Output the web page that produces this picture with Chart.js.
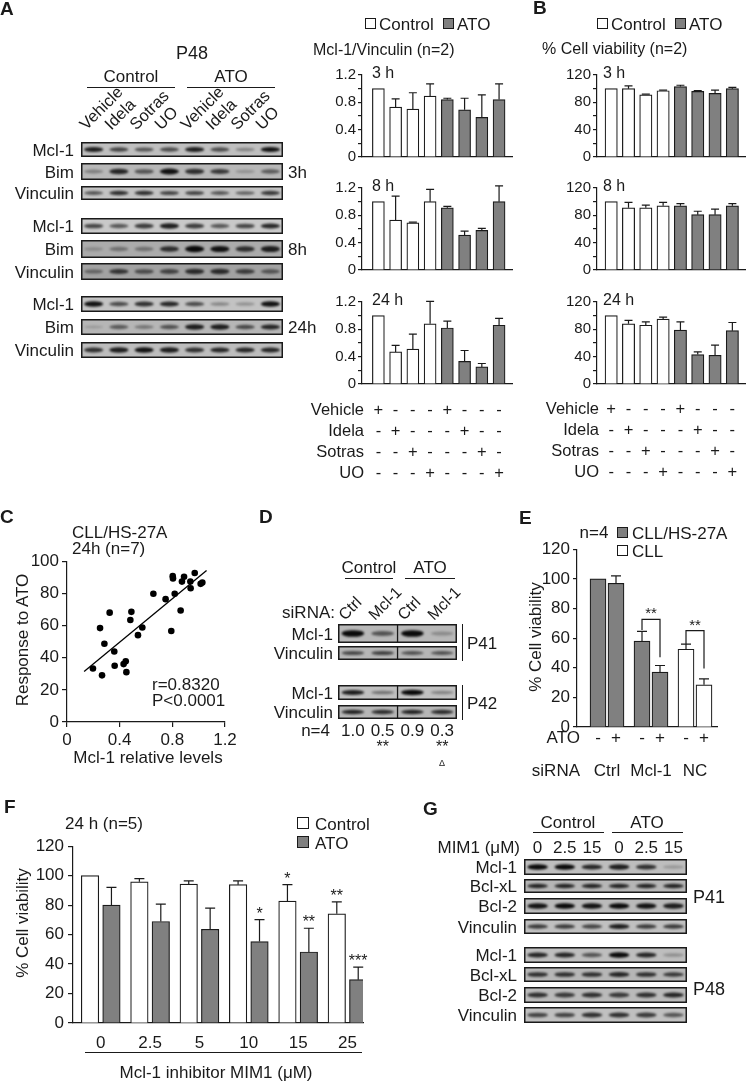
<!DOCTYPE html>
<html>
<head>
<meta charset="utf-8">
<script src="https://cdn.jsdelivr.net/npm/chart.js@4.4.1/dist/chart.umd.min.js"></script>
<style>
  body { margin: 0; background: #fff; }
  #fig { position: relative; width: 747px; height: 1083px; overflow: hidden; background: #fff;
         font-family: "Liberation Sans", Arial, Helvetica, sans-serif; color: #1a1a1a; }
  #fig canvas { position: absolute; }
  .t { position: absolute; white-space: nowrap; line-height: 1; z-index: 2; }
  .ln { position: absolute; background: #1a1a1a; z-index: 2; }
  .sw { position: absolute; border: 1.3px solid #1a1a1a; box-sizing: border-box; z-index: 2; }
</style>
</head>
<body>
<div id="fig"><canvas id="blots" width="747" height="1083" style="left:0;top:0"></canvas></div>
<script>
// ---- data ----
const treatments = ['Vehicle', 'Idela', 'Sotras', 'UO'];
const barTreatment = [0, 1, 2, 3, 0, 1, 2, 3];
const timeLabels = ['3 h', '8 h', '24 h'];

// A: Mcl-1/Vinculin (bar tops, error bar tops)
const mcl3hCtrl = [1.0, 0.73, 0.70, 0.89];
const mcl3hCtrlErr = [null, 0.85, 0.94, 1.07];
const mcl3hAto = [0.84, 0.69, 0.58, 0.84];
const mcl3hAtoErr = [0.86, 0.86, 0.91, 1.07];
const mcl8hCtrl = [1.0, 0.73, 0.69, 1.0];
const mcl8hCtrlErr = [null, 1.08, 0.70, 1.18];
const mcl8hAto = [0.91, 0.51, 0.58, 1.0];
const mcl8hAtoErr = [0.93, 0.57, 0.61, 1.23];
const mcl24hCtrl = [1.0, 0.47, 0.51, 0.88];
const mcl24hCtrlErr = [null, 0.565, 0.73, 1.21];
const mcl24hAto = [0.82, 0.33, 0.25, 0.86];
const mcl24hAtoErr = [0.92, 0.49, 0.30, 0.96];

// B: % cell viability
const via3hCtrl = [100, 100, 91, 97];
const via3hCtrlErr = [null, 104, 92, 98];
const via3hAto = [103, 96, 93, 100];
const via3hAtoErr = [105, 97, 98, 102];
const via8hCtrl = [100, 91, 91, 94];
const via8hCtrlErr = [null, 99, 95, 99];
const via8hAto = [94, 81, 81, 94];
const via8hAtoErr = [97, 86, 89, 97];
const via24hCtrl = [100, 88, 86, 95];
const via24hCtrlErr = [null, 93, 91, 98];
const via24hAto = [79, 43, 42, 78];
const via24hAtoErr = [91, 47, 57, 90];

// C: Mcl-1 relative levels vs response to ATO
const mclLevels = [0.197, 0.266, 0.251, 0.284, 0.324, 0.359, 0.362, 0.430, 0.446, 0.451, 0.481, 0.489, 0.539, 0.572,
                   0.656, 0.749, 0.818, 0.792, 0.803, 0.805, 0.863, 0.873, 0.889, 0.937, 0.939, 0.970, 1.015, 1.028];
const atoResponse = [33.3, 29, 58.4, 48.7, 68, 43.8, 35, 36, 37.8, 31, 63.4, 68.5, 54, 58.8,
                     79.8, 76.4, 79.8, 56.6, 90.7, 89.3, 69.3, 87.3, 90.3, 87.3, 83.2, 92.7, 85.9, 86.7];
const fitRange = [0.13, 1.06];

// D: knockdown ratios
const dLanes = ['Ctrl', 'Mcl-1', 'Ctrl', 'Mcl-1'];
const dRatios = ['1.0', '0.5', '0.9', '0.3'];

// E: siRNA viability
const eSirna = ['Ctrl', 'Mcl-1', 'NC'];
const eAtoSigns = ['-', '+'];
const eCoculture = [100, 97, 58, 37];
const eCocultureErr = [null, 102, 64.5, 41.5];
const eMono = [52.5, 28.5];
const eMonoErr = [56, 32.5];
const eBracketTop = [72.7, 65];
const eBracketLeft = [65.5, 56];
const eBracketRight = [47, 39.5];

// F: MIM1 dose response
const doses = ['0', '2.5', '5', '10', '15', '25'];
const fCtrl = [100, 95.8, 94.3, 93.9, 82.7, 74.1];
const fCtrlErr = [null, 98, 96.5, 96.5, 93.9, 82.2];
const fAto = [80, 68.9, 63.6, 55.3, 48.2, 29.4];
const fAtoErr = [92, 80.7, 78, 70.2, 64.3, 37.9];
const fCtrlStars = ['', '', '', '', '*', '**'];
const fAtoStars = ['', '', '', '*', '**', '***'];

// G
const gDoses = ['0', '2.5', '15', '0', '2.5', '15'];

// blot band intensities (0..1)
const blotA3hMcl = [0.85, 0.65, 0.55, 0.6, 0.85, 0.6, 0.3, 0.9];
const blotA3hBim = [0.3, 0.8, 0.55, 0.9, 0.75, 0.7, 0.2, 0.5];
const blotA3hVinc = [0.55, 0.75, 0.75, 0.65, 0.65, 0.55, 0.5, 0.7];
const blotA8hMcl = [0.65, 0.55, 0.7, 0.85, 0.7, 0.55, 0.65, 0.8];
const blotA8hBim = [0.2, 0.35, 0.35, 0.75, 0.95, 0.9, 0.75, 0.85];
const blotA8hVinc = [0.4, 0.7, 0.55, 0.6, 0.75, 0.75, 0.65, 0.5];
const blotA24hMcl = [0.9, 0.6, 0.75, 0.8, 0.6, 0.3, 0.25, 0.9];
const blotA24hBim = [0.15, 0.5, 0.35, 0.55, 0.85, 0.85, 0.6, 0.8];
const blotA24hVinc = [0.75, 0.85, 0.9, 0.85, 0.75, 0.8, 0.8, 0.8];
const blotD41Mcl = [0.95, 0.55, 0.95, 0.25];
const blotD41Vinc = [0.6, 0.65, 0.55, 0.55];
const blotD42Mcl = [0.85, 0.4, 0.95, 0.3];
const blotD42Vinc = [0.8, 0.75, 0.8, 0.75];
const blotG41 = [[0.95, 0.95, 0.8, 0.85, 0.75, 0.2], [0.8, 0.8, 0.8, 0.8, 0.8, 0.8],
                 [0.9, 0.95, 0.9, 0.95, 0.9, 0.85], [0.7, 0.7, 0.65, 0.85, 0.7, 0.7]];
const blotG48 = [[0.8, 0.8, 0.55, 0.95, 0.8, 0.25], [0.75, 0.75, 0.75, 0.8, 0.75, 0.7],
                 [0.75, 0.7, 0.75, 0.7, 0.75, 0.8], [0.65, 0.65, 0.75, 0.75, 0.7, 0.55]];

// ---- helpers ----
const INK = '#1a1a1a', GRAY = '#808080';
const FONT = '"Liberation Sans", Arial, Helvetica, sans-serif';
const fig = document.getElementById('fig');
const bctx = document.getElementById('blots').getContext('2d');

function txt(s, x, y, o = {}) {
  const d = document.createElement('div');
  d.className = 't';
  d.textContent = s;
  d.style.fontSize = (o.size || 16) + 'px';
  if (o.bold) d.style.fontWeight = 'bold';
  const ax = o.align === 'right' ? '-100%' : o.align === 'left' ? '0' : '-50%';
  d.style.left = x + 'px';
  d.style.top = y + 'px';
  d.style.transform = `translate(${ax},-50%)` + (o.rot ? ` rotate(${o.rot}deg)` : '');
  fig.appendChild(d);
}
function slant(s, x, y, size) {
  const d = document.createElement('div');
  d.className = 't';
  d.textContent = s;
  d.style.fontSize = size + 'px';
  d.style.left = x + 'px';
  d.style.top = (y - size) + 'px';
  d.style.transformOrigin = '0 100%';
  d.style.transform = 'rotate(-45deg)';
  fig.appendChild(d);
}
function line(x1, y1, x2, y2, w = 1.3) {
  const d = document.createElement('div');
  d.className = 'ln';
  d.style.left = Math.min(x1, x2) + 'px';
  d.style.top = Math.min(y1, y2) + 'px';
  d.style.width = Math.max(w, Math.abs(x2 - x1)) + 'px';
  d.style.height = Math.max(w, Math.abs(y2 - y1)) + 'px';
  fig.appendChild(d);
}
function swatch(x, y, s, fill) {
  const d = document.createElement('div');
  d.className = 'sw';
  Object.assign(d.style, { left: x + 'px', top: y + 'px', width: s + 'px', height: s + 'px', background: fill });
  fig.appendChild(d);
}

function drawBlot(x, y, w, h, bands, bg) {
  bctx.save();
  bctx.fillStyle = bg;
  bctx.fillRect(x, y, w, h);
  const lw = w / bands.length;
  bctx.filter = 'blur(1.1px)';
  bands.forEach((v, i) => {
    const cx = x + lw * (i + 0.5);
    const bh = Math.max(2, h * 0.28 * (0.6 + 0.7 * v));
    bctx.fillStyle = `rgba(10,10,10,${Math.min(1, v * 1.05).toFixed(2)})`;
    bctx.beginPath();
    bctx.ellipse(cx, y + h * 0.5, lw * 0.38, bh / 2, 0, 0, Math.PI * 2);
    bctx.fill();
  });
  bctx.filter = 'none';
  bctx.strokeStyle = INK;
  bctx.lineWidth = 1.5;
  bctx.strokeRect(x + 0.75, y + 0.75, w - 1.5, h - 1.5);
  bctx.restore();
}

// error bars, stars and brackets drawn from the chart's own scales
const errorBars = {
  id: 'errorBars',
  afterDatasetsDraw(chart) {
    const ctx = chart.ctx, y = chart.scales.y;
    chart.data.datasets.forEach((ds, i) => {
      const meta = chart.getDatasetMeta(i);
      if (!ds.errTop || meta.type !== 'bar') return;
      ctx.save();
      ctx.strokeStyle = INK;
      ctx.lineWidth = 1.2;
      meta.data.forEach((bar, j) => {
        const e = ds.errTop[j];
        let top = bar.y;
        if (e != null) {
          top = y.getPixelForValue(e);
          const cap = ds.cap || 4;
          ctx.beginPath();
          ctx.moveTo(bar.x, bar.y);
          ctx.lineTo(bar.x, top);
          ctx.moveTo(bar.x - cap, top);
          ctx.lineTo(bar.x + cap, top);
          ctx.stroke();
        }
        if (ds.stars && ds.stars[j]) {
          ctx.fillStyle = INK;
          ctx.font = `16px ${FONT}`;
          ctx.textAlign = 'center';
          ctx.textBaseline = 'alphabetic';
          ctx.fillText(ds.stars[j], bar.x, top - 1);
        }
      });
      ctx.restore();
    });
    const br = chart.options.plugins.brackets;
    if (br && br.items) {
      ctx.save();
      ctx.strokeStyle = INK;
      ctx.lineWidth = 1.2;
      ctx.fillStyle = INK;
      ctx.font = `15px ${FONT}`;
      ctx.textAlign = 'center';
      br.items.forEach(b => {
        const x1 = chart.scales.x.getPixelForValue(b.x1), x2 = chart.scales.x.getPixelForValue(b.x2);
        const yt = y.getPixelForValue(b.top);
        ctx.beginPath();
        ctx.moveTo(x1, y.getPixelForValue(b.left));
        ctx.lineTo(x1, yt);
        ctx.lineTo(x2, yt);
        ctx.lineTo(x2, y.getPixelForValue(b.right));
        ctx.stroke();
        ctx.fillText(b.text, (x1 + x2) / 2, yt - 1);
      });
      ctx.restore();
    }
  }
};

function place(g) {
  const c = document.createElement('canvas');
  const w = g.yW + (g.right - g.axisX) + g.pr;
  const h = g.pt + (g.bottom - g.top) + g.xH;
  c.width = w; c.height = h;
  c.style.left = (g.axisX - g.yW) + 'px';
  c.style.top = (g.top - g.pt) + 'px';
  c.style.width = w + 'px';
  c.style.height = h + 'px';
  fig.appendChild(c);
  return c;
}
function yAxis(min, max, step, fmt, size, pad, yW, tick = 4) {
  return {
    min, max,
    ticks: { stepSize: step, autoSkip: false, font: { family: FONT, size }, color: INK, padding: pad, callback: fmt },
    grid: { display: true, drawOnChartArea: false, drawTicks: true, tickLength: tick, color: INK, lineWidth: 1.2 },
    border: { display: true, color: INK, width: 1.2 },
    afterFit: s => { s.width = yW; }
  };
}
function xAxis(min, max, xH, extra = {}) {
  return Object.assign({
    type: 'linear', min, max, offset: false,
    ticks: { display: false },
    grid: { display: false, offset: false },
    border: { display: true, color: INK, width: 1.2 },
    afterFit: s => { s.height = xH; }
  }, extra);
}
function barSet(label, xs, ys, err, fill, thick, cap, stars) {
  return {
    label, data: ys.map((v, i) => ({ x: xs[i], y: v })),
    backgroundColor: fill, borderColor: INK, borderWidth: 1.2,
    barThickness: thick, grouped: false, errTop: err, cap, stars
  };
}
function makeChart(g, type, datasets, scales, extraPlugins = {}) {
  const c = place(g);
  return new Chart(c, {
    type,
    data: { datasets },
    options: {
      responsive: false, animation: false, events: [],
      layout: { autoPadding: false, padding: { top: g.pt, right: g.pr, bottom: 0, left: 0 } },
      plugins: Object.assign({ legend: { display: false }, tooltip: { enabled: false } }, extraPlugins),
      scales
    },
    plugins: [errorBars]
  });
}

// ---- panel letters ----
txt('A', 0, 8, { align: 'left', bold: true, size: 19 });
txt('B', 533, 7, { align: 'left', bold: true, size: 19 });
txt('C', 0, 516, { align: 'left', bold: true, size: 19 });
txt('D', 259, 516, { align: 'left', bold: true, size: 19 });
txt('E', 519, 517, { align: 'left', bold: true, size: 19 });
txt('F', 4, 806, { align: 'left', bold: true, size: 19 });
txt('G', 423, 808, { align: 'left', bold: true, size: 19 });

// ---- panel A blot ----
{
  const x = 81, w = 202, lw = w / 8;
  txt('P48', 192, 53, { size: 18 });
  txt('Control', 131, 76, { size: 17 }); line(87, 86.5, 175, 86.5);
  txt('ATO', 231, 76, { size: 17 }); line(187, 86.5, 275, 86.5);
  barTreatment.forEach((t, i) => slant(treatments[t], x + lw * (i + 0.5) - 6, 132, 16.5));
  const rows = [
    [142, 157, blotA3hMcl, '#bfbfbf', 'Mcl-1'], [163, 180, blotA3hBim, '#b8b8b8', 'Bim'], [186, 200, blotA3hVinc, '#c3c3c3', 'Vinculin'],
    [218, 234, blotA8hMcl, '#c9c9c9', 'Mcl-1'], [240, 258, blotA8hBim, '#ababab', 'Bim'], [263, 280, blotA8hVinc, '#a2a2a2', 'Vinculin'],
    [296, 312, blotA24hMcl, '#c3c3c3', 'Mcl-1'], [319, 335, blotA24hBim, '#b6b6b6', 'Bim'], [342, 358, blotA24hVinc, '#bdbdbd', 'Vinculin']
  ];
  rows.forEach(r => {
    drawBlot(x, r[0], w, r[1] - r[0], r[2], r[3]);
    txt(r[4], 74, (r[0] + r[1]) / 2, { align: 'right', size: 17 });
  });
  txt('3h', 288, 171.5, { align: 'left', size: 17 });
  txt('8h', 288, 249, { align: 'left', size: 17 });
  txt('24h', 288, 327, { align: 'left', size: 17 });
}

// ---- panels A and B charts ----
const tops = [73, 186, 300];
const mclSets = [[mcl3hCtrl, mcl3hCtrlErr, mcl3hAto, mcl3hAtoErr],
                 [mcl8hCtrl, mcl8hCtrlErr, mcl8hAto, mcl8hAtoErr],
                 [mcl24hCtrl, mcl24hCtrlErr, mcl24hAto, mcl24hAtoErr]];
const viaSets = [[via3hCtrl, via3hCtrlErr, via3hAto, via3hAtoErr],
                 [via8hCtrl, via8hCtrlErr, via8hAto, via8hAtoErr],
                 [via24hCtrl, via24hCtrlErr, via24hAto, via24hAtoErr]];
const ctrlX = [0, 1, 2, 3], atoX = [4, 5, 6, 7];
let lastA, lastB;
tops.forEach((top, t) => {
  const gA = { axisX: 362, right: 512, top, bottom: top + 93, yW: 40, pt: 9, pr: 2, xH: 2 };
  const s = mclSets[t];
  lastA = makeChart(gA, 'bar', [
    barSet('Control', ctrlX, s[0], s[1], '#ffffff', 12, 4),
    barSet('ATO', atoX, s[2], s[3], GRAY, 12, 4)
  ], {
    x: xAxis(-0.95, 7.75, 2),
    y: yAxis(0, 1.2, 0.2, v => (Math.round(v * 10) % 4 === 0 ? (v === 0 ? '0' : v.toFixed(1)) : ''), 15, 2, 40)
  });
  txt(timeLabels[t], 372, top, { align: 'left', size: 16 });

  const gB = { axisX: 597, right: 745, top, bottom: top + 93, yW: 40, pt: 9, pr: 2, xH: 2 };
  const b = viaSets[t];
  lastB = makeChart(gB, 'bar', [
    barSet('Control', ctrlX, b[0], b[1], '#ffffff', 12.3, 4),
    barSet('ATO', atoX, b[2], b[3], GRAY, 12.3, 4)
  ], {
    x: xAxis(-0.82, 7.73, 2),
    y: yAxis(0, 120, 20, v => (v % 40 === 0 ? String(v) : ''), 15, 2, 40)
  });
  txt(timeLabels[t], 603, top, { align: 'left', size: 16 });
});

// legends and titles A/B
swatch(365, 18, 11, '#fff'); txt('Control', 379, 23.5, { align: 'left', size: 17 });
swatch(443, 18, 11, GRAY); txt('ATO', 457, 23.5, { align: 'left', size: 17 });
txt('Mcl-1/Vinculin (n=2)', 313, 50, { align: 'left', size: 16 });
swatch(597, 18, 11, '#fff'); txt('Control', 611, 23.5, { align: 'left', size: 17 });
swatch(675, 18, 11, GRAY); txt('ATO', 689, 23.5, { align: 'left', size: 17 });
txt('% Cell viability (n=2)', 542, 49, { align: 'left', size: 16 });

// treatment tables under A and B
[[lastA, 364, 409], [lastB, 599, 408]].forEach(([ch, lx, y0]) => {
  const left = parseFloat(ch.canvas.style.left);
  treatments.forEach((name, r) => {
    const y = y0 + r * 21;
    txt(name, lx, y, { align: 'right', size: 16.5 });
    barTreatment.forEach((t, c) => {
      txt(t === r ? '+' : '-', left + ch.scales.x.getPixelForValue(c), y, { size: 16.5 });
    });
  });
});

// ---- panel C scatter ----
{
  const n = mclLevels.length;
  const mx = mclLevels.reduce((a, b) => a + b, 0) / n;
  const my = atoResponse.reduce((a, b) => a + b, 0) / n;
  let sxy = 0, sxx = 0;
  mclLevels.forEach((x, i) => { sxy += (x - mx) * (atoResponse[i] - my); sxx += (x - mx) * (x - mx); });
  const slope = sxy / sxx, icpt = my - slope * mx;
  const g = { axisX: 67, right: 225, top: 557, bottom: 722, yW: 45, pt: 9, pr: 18, xH: 30 };
  makeChart(g, 'scatter', [
    { data: mclLevels.map((x, i) => ({ x, y: atoResponse[i] })), backgroundColor: '#000', borderColor: '#000',
      pointRadius: 3.3, pointBorderWidth: 0 },
    { type: 'line', data: fitRange.map(x => ({ x, y: icpt + slope * x })), borderColor: '#000', borderWidth: 1.3,
      pointRadius: 0, fill: false }
  ], {
    x: Object.assign(xAxis(0, 1.2, 30), {
      ticks: { display: true, stepSize: 0.4, autoSkip: false, font: { family: FONT, size: 17 }, color: INK, padding: 3,
               callback: v => (v === 0 ? '0' : v.toFixed(1)) },
      grid: { display: true, drawOnChartArea: false, drawTicks: true, tickLength: 5, color: INK, lineWidth: 1.2 }
    }),
    y: yAxis(0, 100, 20, v => String(v), 17, 3, 45, 5)
  });
  txt('CLL/HS-27A', 72, 532, { align: 'left', size: 17 });
  txt('24h (n=7)', 72, 548, { align: 'left', size: 17 });
  txt('r=0.8320', 152, 684, { align: 'left', size: 17 });
  txt('P<0.0001', 152, 700, { align: 'left', size: 17 });
  txt('Response to ATO', 22, 640, { rot: -90, size: 17 });
  txt('Mcl-1 relative levels', 148, 757, { size: 17 });
}

// ---- panel D blot ----
{
  const x = 338, w = 119, lw = w / 4;
  txt('Control', 369, 567, { size: 17 }); line(345, 577.5, 393, 577.5);
  txt('ATO', 430, 567, { size: 17 }); line(405, 577.5, 455, 577.5);
  txt('siRNA:', 335, 612, { align: 'right', size: 17 });
  dLanes.forEach((s, i) => slant(s, x + lw * (i + 0.5) - 6, 623, 16));
  [[624, 643, blotD41Mcl, '#b8b8b8', 'Mcl-1'], [646, 660, blotD41Vinc, '#b6b6b6', 'Vinculin'],
   [685, 700, blotD42Mcl, '#c0c0c0', 'Mcl-1'], [705, 719, blotD42Vinc, '#b6b6b6', 'Vinculin']].forEach(r => {
    drawBlot(x, r[0], w, r[1] - r[0], r[2], r[3]);
    txt(r[4], 333, (r[0] + r[1]) / 2, { align: 'right', size: 17 });
  });
  bctx.fillStyle = INK;
  [[624, 643], [646, 660], [685, 700], [705, 719]].forEach(r => bctx.fillRect(x + w / 2 - 0.6, r[0], 1.3, r[1] - r[0]));
  line(462, 624, 462, 661); line(462, 685, 462, 720);
  txt('P41', 467, 643, { align: 'left', size: 17 });
  txt('P42', 467, 703, { align: 'left', size: 17 });
  txt('n=4', 330, 730, { align: 'right', size: 17 });
  dRatios.forEach((s, i) => txt(s, x + lw * (i + 0.5), 730, { size: 17 }));
  txt('**', x + lw * 1.5, 747, { size: 16 });
  txt('**', x + lw * 3.5, 747, { size: 16 });
  txt('\u0394', x + lw * 3.5, 763, { size: 9 });
}

// ---- panel E ----
{
  const gs = 44 / 18;
  const pos = [];
  eSirna.forEach((_, g) => eAtoSigns.forEach((_, s) => pos.push(g * gs + s)));
  const g = { axisX: 577, right: 717, top: 545, bottom: 727, yW: 45, pt: 9, pr: 4, xH: 22 };
  const ch = makeChart(g, 'bar', [
    barSet('CLL/HS-27A', pos.slice(0, 4), eCoculture, eCocultureErr, GRAY, 16, 5),
    barSet('CLL', pos.slice(4), eMono, eMonoErr, '#ffffff', 16, 5)
  ], {
    x: xAxis(-1.167, 6.611, 22, {
      ticks: { display: true, autoSkip: false, font: { family: FONT, size: 17 }, color: INK, padding: 1,
               callback: (v, i) => eAtoSigns[i % 2] },
      grid: { display: false, drawTicks: false },
      afterBuildTicks: s => { s.ticks = pos.map(v => ({ value: v })); }
    }),
    y: yAxis(0, 120, 20, v => String(v), 17, 3, 45, 4)
  }, {
    brackets: { items: [1, 2].map((gIdx, k) => ({ x1: pos[gIdx * 2], x2: pos[gIdx * 2 + 1], top: eBracketTop[k],
                                                  left: eBracketLeft[k], right: eBracketRight[k], text: '**' })) }
  });
  const left = parseFloat(ch.canvas.style.left);
  txt('n=4', 594, 532, { size: 17 });
  swatch(617, 527, 11, GRAY); txt('CLL/HS-27A', 632, 532.5, { align: 'left', size: 17 });
  swatch(617, 545, 11, '#fff'); txt('CLL', 632, 550.5, { align: 'left', size: 17 });
  txt('% Cell viability', 535, 637, { rot: -90, size: 17 });
  txt('ATO', 580, 737, { align: 'right', size: 17 });
  txt('siRNA', 580, 770, { align: 'right', size: 17 });
  eSirna.forEach((s, gIdx) => {
    const cx = left + (ch.scales.x.getPixelForValue(pos[gIdx * 2]) + ch.scales.x.getPixelForValue(pos[gIdx * 2 + 1])) / 2;
    txt(s, cx, 770, { size: 17 });
  });
}

// ---- panel F ----
{
  const off = 0.217;
  const g = { axisX: 73, right: 363, top: 841, bottom: 1023, yW: 45, pt: 9, pr: 6, xH: 30 };
  makeChart(g, 'bar', [
    barSet('Control', doses.map((_, i) => i - off), fCtrl, fCtrlErr, '#ffffff', 17.5, 5, fCtrlStars),
    barSet('ATO', doses.map((_, i) => i + off), fAto, fAtoErr, GRAY, 17.5, 5, fAtoStars)
  ], {
    x: xAxis(-0.562, 5.314, 30, {
      ticks: { display: true, autoSkip: false, font: { family: FONT, size: 17 }, color: INK, padding: 10,
               callback: (v, i) => doses[i] },
      grid: { display: false, drawTicks: false },
      afterBuildTicks: s => { s.ticks = doses.map((_, i) => ({ value: i })); }
    }),
    y: yAxis(0, 120, 20, v => String(v), 17, 4, 45, 5)
  });
  txt('24 h (n=5)', 65, 823, { align: 'left', size: 17 });
  swatch(297, 817, 12, '#fff'); txt('Control', 315, 823.5, { align: 'left', size: 17 });
  swatch(297, 836, 12, GRAY); txt('ATO', 315, 842.5, { align: 'left', size: 17 });
  txt('% Cell viability', 22, 923, { rot: -90, size: 17 });
  line(85, 1052, 362, 1052);
  txt('Mcl-1 inhibitor MIM1 (\u03bcM)', 216, 1072, { size: 17 });
}

// ---- panel G blot ----
{
  const x = 524, w = 163, lw = w / 6;
  txt('Control', 568, 822, { size: 17 }); line(533, 832, 604, 832);
  txt('ATO', 647, 822, { size: 17 }); line(612, 832, 683, 832);
  txt('MIM1 (\u03bcM)', 520, 847, { align: 'right', size: 17 });
  gDoses.forEach((s, i) => txt(s, x + lw * (i + 0.5), 847, { size: 17 }));
  const names = ['Mcl-1', 'Bcl-xL', 'Bcl-2', 'Vinculin'];
  const r41 = [[859, 875], [879, 893], [898, 914], [919, 934]];
  const r48 = [[947, 963], [967, 982], [987, 1003], [1007, 1023]];
  const bg = ['#bebebe', '#b6b6b6', '#bababa', '#c0c0c0'];
  r41.forEach((r, k) => { drawBlot(x, r[0], w, r[1] - r[0], blotG41[k], bg[k]); txt(names[k], 517, (r[0] + r[1]) / 2, { align: 'right', size: 17 }); });
  r48.forEach((r, k) => { drawBlot(x, r[0], w, r[1] - r[0], blotG48[k], bg[k]); txt(names[k], 517, (r[0] + r[1]) / 2, { align: 'right', size: 17 }); });
  txt('P41', 693, 897, { align: 'left', size: 18 });
  txt('P48', 693, 989, { align: 'left', size: 18 });
}
</script>
</body>
</html>
